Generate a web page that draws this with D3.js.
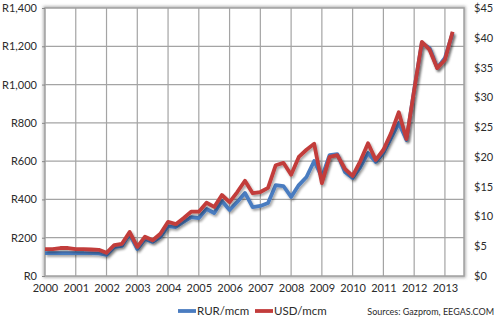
<!DOCTYPE html>
<html>
<head>
<meta charset="utf-8">
<script src="https://cdn.jsdelivr.net/npm/d3@7/dist/d3.min.js"></script>
<style>
  html, body { margin: 0; padding: 0; background: #fff; }
  svg { display: block; }
  text { font-family: Lato, "Open Sans", sans-serif; fill: #2b2b2b; }
</style>
</head>
<body>
<svg id="chart" width="495" height="323"></svg>
<script>
// ---- data ----
const quarters = [
  "2000Q1","2000Q2","2000Q3","2000Q4","2001Q1","2001Q2","2001Q3","2001Q4",
  "2002Q1","2002Q2","2002Q3","2002Q4","2003Q1","2003Q2","2003Q3","2003Q4",
  "2004Q1","2004Q2","2004Q3","2004Q4","2005Q1","2005Q2","2005Q3","2005Q4",
  "2006Q1","2006Q2","2006Q3","2006Q4","2007Q1","2007Q2","2007Q3","2007Q4",
  "2008Q1","2008Q2","2008Q3","2008Q4","2009Q1","2009Q2","2009Q3","2009Q4",
  "2010Q1","2010Q2","2010Q3","2010Q4","2011Q1","2011Q2","2011Q3","2011Q4",
  "2012Q1","2012Q2","2012Q3","2012Q4","2013Q1","2013Q2"
];
const rurValues = [
  120,120,120,120,120,120,120,118,
  110,151,157,219,141,193,178,204,
  261,256,282,308,303,350,329,392,
  345,387,434,360,366,381,475,470,
  413,475,517,601,517,632,637,543,
  512,569,643,596,643,721,799,710,
  972,1217,1191,1087,1139,1269
];
const usdValues = [
  4.5,4.5,4.7,4.7,4.5,4.5,4.45,4.4,
  3.9,5.2,5.4,7.4,4.9,6.6,6.0,7.1,
  9.1,8.7,9.7,10.8,10.8,12.3,11.6,13.6,
  12.4,14.1,16.0,13.9,14.1,14.8,18.6,19.0,
  17.0,20.0,21.2,22.2,15.6,20.0,20.3,18.0,
  16.8,19.3,22.3,19.5,21.2,24.0,27.5,23.0,
  31.2,39.3,38.0,34.9,36.3,41.0
];
const yearTicks = [2000,2001,2002,2003,2004,2005,2006,2007,2008,2009,2010,2011,2012,2013];
const rurTicks = [0,200,400,600,800,1000,1200,1400];
const usdTicks = [0,5,10,15,20,25,30,35,40,45];
const seriesNames = ["RUR/mcm","USD/mcm"];
const seriesColors = ["#4a7cc0","#c23c3b"];
const sourceText = "Sources: Gazprom, EEGAS.COM";

// ---- layout ----
const svg = d3.select("#chart");
const L = 45, R = 464, T = 8, B = 276;
const toTime = s => +s.slice(0,4) + (+s.slice(5) - 1) / 4;
const FONT = "Lato, 'Open Sans', sans-serif";

const x = d3.scaleLinear().domain([2000, 2013.62]).range([L, R]);
const yL = d3.scaleLinear().domain([0, 1400]).range([B, T]);
const yR = d3.scaleLinear().domain([0, 45]).range([B, T]);

const defs = svg.append("defs");
const fs = defs.append("filter").attr("id","lshadow")
  .attr("x","-5%").attr("y","-5%").attr("width","115%").attr("height","115%");
fs.append("feDropShadow").attr("dx",1.5).attr("dy",2).attr("stdDeviation",1.2)
  .attr("flood-color","#000").attr("flood-opacity",0.35);
const ff = defs.append("filter").attr("id","fshadow")
  .attr("x","-5%").attr("y","-5%").attr("width","110%").attr("height","110%");
ff.append("feGaussianBlur").attr("stdDeviation",1.6);

// frame glow
svg.append("rect").attr("x",L).attr("y",T).attr("width",R-L).attr("height",B-T)
  .attr("fill","none").attr("stroke","#9a9a9a").attr("stroke-width",3.5)
  .attr("filter","url(#fshadow)").attr("opacity",0.8);
svg.append("rect").attr("x",L).attr("y",T).attr("width",R-L).attr("height",B-T)
  .attr("fill","#fff");

// gridlines
const grid = svg.append("g").attr("stroke","#a4a4a4").attr("stroke-width",1.2);
grid.selectAll("line.h").data(rurTicks.slice(1,-1)).join("line")
  .attr("x1",L).attr("x2",R).attr("y1",d=>yL(d)).attr("y2",d=>yL(d));
grid.selectAll("line.v").data(yearTicks.slice(1)).join("line")
  .attr("y1",T).attr("y2",B).attr("x1",d=>x(d)).attr("x2",d=>x(d));

// frame
svg.append("rect").attr("x",L).attr("y",T).attr("width",R-L).attr("height",B-T)
  .attr("fill","none").attr("stroke","#a0a0a0").attr("stroke-width",1.5);

// axes
const axL = svg.append("g").attr("transform",`translate(${L},0)`)
  .call(d3.axisLeft(yL).tickValues(rurTicks).tickSize(3).tickPadding(5)
    .tickFormat(d => "R" + d3.format(",")(d)));
const axR = svg.append("g").attr("transform",`translate(${R},0)`)
  .call(d3.axisRight(yR).tickValues(usdTicks).tickSize(0).tickPadding(10)
    .tickFormat(d => "$" + d));
const axB = svg.append("g").attr("transform",`translate(0,${B})`)
  .call(d3.axisBottom(x).tickValues(yearTicks).tickSize(0).tickPadding(8)
    .tickFormat(d3.format("d")));
[axL, axR, axB].forEach(g => {
  g.select(".domain").remove();
  g.selectAll(".tick line").attr("stroke","#888");
  g.selectAll("text").attr("font-size","11px").attr("fill","#2b2b2b")
    .style("font-family", FONT);
});

// lines
const rurData = quarters.map((q,i)=>({t:toTime(q), v:rurValues[i]}));
const usdData = quarters.map((q,i)=>({t:toTime(q), v:usdValues[i]}));
const lineL = d3.line().x(d=>x(d.t)).y(d=>yL(d.v));
const lineR = d3.line().x(d=>x(d.t)).y(d=>yR(d.v));
svg.append("path").datum(rurData).attr("d",lineL).attr("fill","none")
  .attr("stroke",seriesColors[0]).attr("stroke-width",3.8)
  .attr("stroke-linejoin","round").attr("filter","url(#lshadow)");
svg.append("path").datum(usdData).attr("d",lineR).attr("fill","none")
  .attr("stroke",seriesColors[1]).attr("stroke-width",3.8)
  .attr("stroke-linejoin","round").attr("filter","url(#lshadow)");

// legend
const legendX = [178, 255];
const leg = svg.append("g");
seriesNames.forEach((name,i)=>{
  leg.append("line").attr("x1",legendX[i]).attr("x2",legendX[i]+18)
    .attr("y1",311).attr("y2",311).attr("stroke",seriesColors[i]).attr("stroke-width",3.8);
  leg.append("text").attr("x",legendX[i]+19).attr("y",315)
    .attr("font-size","11.5px").text(name);
});
svg.append("text").attr("x",494).attr("y",314.5).attr("text-anchor","end")
  .attr("font-size","9px").text(sourceText);
</script>
</body>
</html>
